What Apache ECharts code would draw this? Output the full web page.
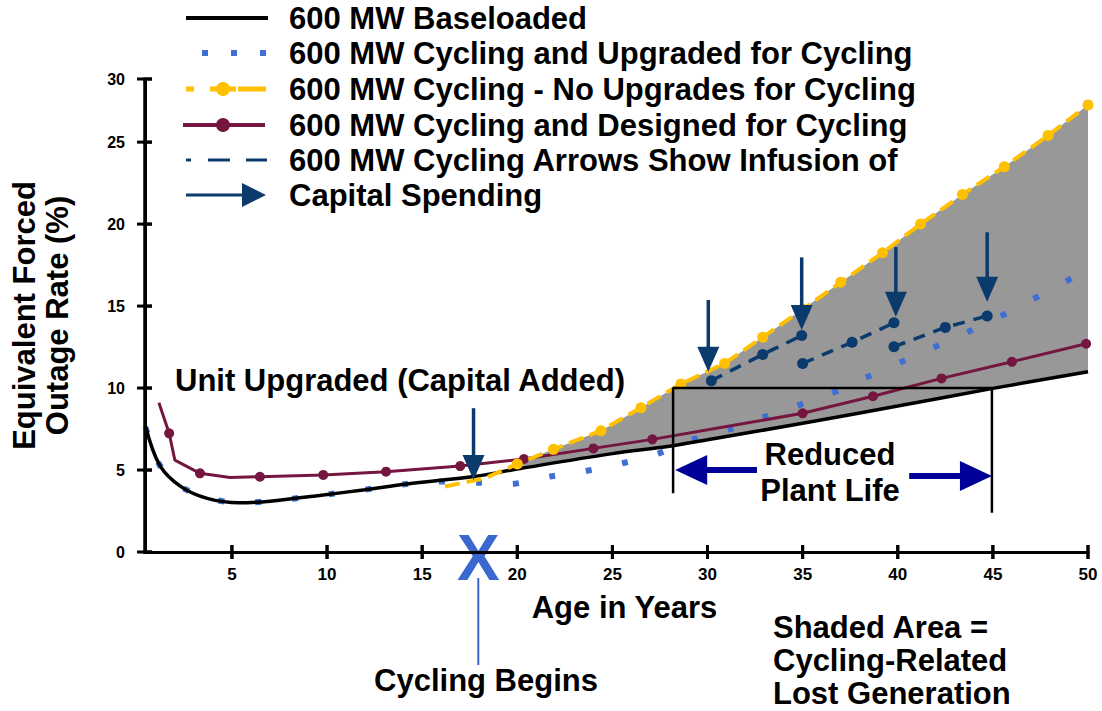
<!DOCTYPE html>
<html><head><meta charset="utf-8">
<script src="https://cdn.jsdelivr.net/npm/echarts@6/dist/echarts.min.js"></script>
<style>html,body{margin:0;padding:0;background:#fff}#c{width:1102px;height:711px}</style>
</head><body><div id="c"></div>
<script>
// ---------- data ----------
const xTickValues = [5, 10, 15, 20, 25, 30, 35, 40, 45, 50];
const xTickLabels = ['5', '10', '15', '20', '25', '30', '35', '40', '45', '50'];
const yTickValues = [0, 5, 10, 15, 20, 25, 28.85];
const yTickLabels = ['0', '5', '10', '15', '20', '25', '30'];
const xMin = 0.43, xMax = 50, yMin = 0, yMax = 28.85;

const seriesNames = [
  '600 MW Baseloaded',
  '600 MW Cycling and Upgraded for Cycling',
  '600 MW Cycling - No Upgrades for Cycling',
  '600 MW Cycling and Designed for Cycling',
  '600 MW Cycling Arrows Show Infusion of',
  'Capital Spending'
];

const baseloaded = [[0.45,7.7],[1.2,5.3],[2.3,4.0],[3.7,3.27],[5.4,3.0],[7,3.1],[9.6,3.45],[12,3.8],[14.2,4.15],[17.7,4.6],[20,5.06],[25,6.0],[28,6.45],[30,6.85],[35,7.85],[40,8.9],[45,9.98],[50,11.0]];
const upgraded = [[0.45,7.6],[1.2,5.3],[2.3,4.0],[3.7,3.27],[5.4,3.0],[7,3.1],[9.6,3.45],[12,3.8],[14.2,4.15],[15.8,4.3],[17.9,4.23],[19.7,4.15],[21.7,4.6],[23.6,4.94],[25.5,5.4],[27.4,6.0],[29.25,6.87],[31.15,7.48],[33,8.25],[34.9,9.0],[36.7,9.77],[38.5,10.73],[40.3,11.65],[42.05,12.56],[43.9,13.54],[45.7,14.55],[47.4,15.6],[49.15,16.7],[50,17.2]];
const noUpgrades = [[16.2,4.0],[18.3,4.5],[20,5.37],[21.9,6.26],[24.4,7.4],[26.5,8.8],[28.6,10.25],[30.9,11.5],[32.9,13.1],[35,14.8],[37,16.45],[39.2,18.25],[41.2,20.0],[43.4,21.8],[45.6,23.5],[47.9,25.4],[50,27.26]];
const noUpgradesUnmarked = [0, 1];
const designed = [[1.16,9.1],[1.7,7.24],[2.0,5.6],[3.32,4.8],[4.9,4.55],[6.47,4.59],[9.8,4.7],[13.1,4.9],[17.0,5.24],[20.35,5.67],[24.0,6.32],[27.1,6.87],[31,7.65],[35,8.46],[38.7,9.5],[42.3,10.59],[46,11.6],[49.9,12.7]];
const designedUnmarked = [0, 2, 4, 12];
const arrowSeg1 = [[30.2,10.45],[32.9,12.05],[34.95,13.2]];
const arrowSeg2 = [[35.0,11.5],[37.6,12.79],[39.8,13.98]];
const arrowSeg3 = [[39.8,12.52],[42.5,13.7],[44.7,14.4]];
// capital spending arrows: [age, top of shaft, arrow tip]
const capitalArrows = [[17.7,8.77,4.39],[30.04,15.37,11.0],[34.95,17.97,13.54],[39.9,18.6,14.35],[44.7,19.5,15.26]];
const shadeStart = [19.6, 5.0];
// reduced plant life bracket and arrows: [tail age, tip age, value]
const lifeBracket = [[28.19,3.58],[28.19,10.0],[44.95,10.0],[44.95,2.4]];
const lifeArrows = [[32.6,28.3,5.0],[40.6,44.95,4.63]];
const cyclingBeginsAge = 17.95;

// ---------- styles ----------
const FONT = "'Liberation Sans', Arial, sans-serif";
const BIG = 'bold 31px ' + FONT;
const C_BLACK = '#000000', C_BLUE = '#3d6fd6', C_YEL = '#ffc000', C_MAR = '#74163f', C_NAVY = '#0b3a6d', C_DB = '#000099', C_GREY = '#989898', C_X = '#3a68cf';

const shadePts = [shadeStart].concat(noUpgrades.filter(p => p[0] >= 20), baseloaded.filter(p => p[0] >= 20).reverse());

function marked(arr, unmarked) {
  return arr.map((p, i) => unmarked.indexOf(i) >= 0 ? { value: p, symbol: 'none' } : p);
}
function idxLabel(values, labels) {
  return v => { const i = values.findIndex(t => Math.abs(t - v) < 1e-6); return i >= 0 ? labels[i] : ''; };
}

const chart = echarts.init(document.getElementById('c'), null, { renderer: 'svg' });

// legend (drawn) -------------------------------------------------
const LX = 289, rowsY = [18, 53, 89, 125, 160, 195];
const legend = [];
legend.push({ type: 'line', shape: { x1: 186, y1: rowsY[0], x2: 268, y2: rowsY[0] }, style: { stroke: C_BLACK, lineWidth: 4 } });
legend.push({ type: 'line', shape: { x1: 202, y1: rowsY[1], x2: 268, y2: rowsY[1] }, style: { stroke: C_BLUE, lineWidth: 6, lineDash: [6, 23] } });
legend.push({ type: 'line', shape: { x1: 186, y1: rowsY[2], x2: 194, y2: rowsY[2] }, style: { stroke: C_YEL, lineWidth: 5 } });
legend.push({ type: 'line', shape: { x1: 210, y1: rowsY[2], x2: 236, y2: rowsY[2] }, style: { stroke: C_YEL, lineWidth: 5 } });
legend.push({ type: 'line', shape: { x1: 238, y1: rowsY[2], x2: 266, y2: rowsY[2] }, style: { stroke: C_YEL, lineWidth: 5 } });
legend.push({ type: 'circle', shape: { cx: 223, cy: rowsY[2], r: 7 }, style: { fill: C_YEL } });
legend.push({ type: 'line', shape: { x1: 183, y1: rowsY[3], x2: 265, y2: rowsY[3] }, style: { stroke: C_MAR, lineWidth: 4 } });
legend.push({ type: 'circle', shape: { cx: 223, cy: rowsY[3], r: 7 }, style: { fill: C_MAR } });
legend.push({ type: 'line', shape: { x1: 186, y1: rowsY[4], x2: 191, y2: rowsY[4] }, style: { stroke: C_NAVY, lineWidth: 3 } });
legend.push({ type: 'line', shape: { x1: 208, y1: rowsY[4], x2: 230, y2: rowsY[4] }, style: { stroke: C_NAVY, lineWidth: 3 } });
legend.push({ type: 'line', shape: { x1: 246, y1: rowsY[4], x2: 267, y2: rowsY[4] }, style: { stroke: C_NAVY, lineWidth: 3 } });
legend.push({ type: 'line', shape: { x1: 186, y1: rowsY[5], x2: 244, y2: rowsY[5] }, style: { stroke: C_NAVY, lineWidth: 3 } });
legend.push({ type: 'polygon', shape: { points: [[242, rowsY[5] - 12], [242, rowsY[5] + 12], [266, rowsY[5]]] }, style: { fill: C_NAVY } });
seriesNames.forEach((n, i) => legend.push({ type: 'text', x: LX, y: rowsY[i], style: { text: n, font: BIG, fill: '#000', align: 'left', verticalAlign: 'middle' } }));

const texts = [
  { type: 'text', x: 175, y: 380, style: { text: 'Unit Upgraded (Capital Added)', font: BIG, fill: '#000', align: 'left', verticalAlign: 'middle' } },
  { type: 'text', x: 830, y: 472, style: { text: 'Reduced\nPlant Life', font: BIG, lineHeight: 36, fill: '#000', align: 'center', verticalAlign: 'middle' } },
  { type: 'text', x: 773, y: 660, style: { text: 'Shaded Area =\nCycling-Related\nLost Generation', font: BIG, lineHeight: 33, fill: '#000', align: 'left', verticalAlign: 'middle' } },
  { type: 'text', x: 486, y: 680, style: { text: 'Cycling Begins', font: BIG, fill: '#000', align: 'center', verticalAlign: 'middle' } }
];

const option = {
  animation: false,
  backgroundColor: '#ffffff',
  grid: { left: 145, right: 14, top: 79, bottom: 159, containLabel: false, outerBoundsMode: 'none' },
  xAxis: {
    type: 'value', min: xMin, max: xMax,
    name: 'Age in Years', nameLocation: 'middle', nameGap: 40,
    nameTextStyle: { fontFamily: FONT, fontWeight: 'bold', fontSize: 31, color: '#000', padding: [0, 0, 0, 16] },
    axisLine: { show: true, onZero: false, lineStyle: { color: '#000', width: 3 } },
    splitLine: { show: false },
    axisTick: { show: false },
    axisLabel: { show: true, customValues: xTickValues, formatter: idxLabel(xTickValues, xTickLabels), margin: 14, fontFamily: FONT, fontWeight: 'bold', fontSize: 17, color: '#000' }
  },
  yAxis: {
    type: 'value', min: yMin, max: yMax,
    name: 'Equivalent Forced\nOutage Rate (%)', nameLocation: 'middle', nameRotate: 90, nameGap: 71,
    nameTextStyle: { fontFamily: FONT, fontWeight: 'bold', fontSize: 31, lineHeight: 33, color: '#000', align: 'center' },
    axisLine: { show: true, onZero: false, lineStyle: { color: '#010101', width: 3 } },
    splitLine: { show: false },
    axisTick: { show: false },
    axisLabel: { show: true, customValues: yTickValues, formatter: idxLabel(yTickValues, yTickLabels), margin: 20, fontFamily: FONT, fontWeight: 'bold', fontSize: 16, color: '#000' }
  },
  series: [
    {
      name: 'shade', type: 'custom', z: 1, clip: false, silent: true,
      data: shadePts, encode: { x: 0, y: 1 },
      renderItem: (params, api) => {
        if (params.dataIndex !== 0) return null;
        return { type: 'polygon', shape: { points: shadePts.map(p => api.coord(p)) }, style: { fill: C_GREY } };
      }
    },
    { name: seriesNames[1], type: 'line', z: 2, data: upgraded, smooth: 0.2, symbol: 'none',
      lineStyle: { color: C_BLUE, width: 6, type: [6, 31], cap: 'butt' } },
    { name: seriesNames[0], type: 'line', z: 3, data: baseloaded, smooth: 0.35, symbol: 'none',
      lineStyle: { color: C_BLACK, width: 3.5 } },
    { name: seriesNames[3], type: 'line', z: 4, data: marked(designed, designedUnmarked), symbol: 'circle', symbolSize: 10,
      itemStyle: { color: C_MAR }, lineStyle: { color: C_MAR, width: 3 } },
    { name: seriesNames[2], type: 'line', z: 5, data: marked(noUpgrades, noUpgradesUnmarked), symbol: 'circle', symbolSize: 11,
      itemStyle: { color: C_YEL }, lineStyle: { color: C_YEL, width: 4, type: [15, 7] } },
    ...[arrowSeg1, arrowSeg2, arrowSeg3].map(seg => ({
      name: seriesNames[4], type: 'line', z: 6, data: seg, symbol: 'circle', symbolSize: 11,
      itemStyle: { color: C_NAVY }, lineStyle: { color: C_NAVY, width: 3.5, type: [12, 9] }
    })),
    { name: 'bracket', type: 'line', z: 6, data: lifeBracket, symbol: 'none', lineStyle: { color: '#000', width: 2.5 } },
    {
      name: 'Reduced Plant Life', type: 'custom', z: 7, clip: false,
      data: lifeArrows, encode: { x: [0, 1], y: 2 },
      renderItem: (params, api) => {
        const tail = api.coord([api.value(0), api.value(2)]);
        const tip = api.coord([api.value(1), api.value(2)]);
        const dir = tip[0] > tail[0] ? 1 : -1, hl = 32, hh = 15;
        return { type: 'group', children: [
          { type: 'line', shape: { x1: tail[0], y1: tail[1], x2: tip[0] - dir * (hl - 2), y2: tip[1] }, style: { stroke: C_DB, lineWidth: 6 } },
          { type: 'polygon', shape: { points: [[tip[0] - dir * hl, tip[1] - hh], [tip[0] - dir * hl, tip[1] + hh], [tip[0], tip[1]]] }, style: { fill: C_DB } }
        ] };
      }
    },
    {
      name: seriesNames[5], type: 'custom', z: 8, clip: false,
      data: capitalArrows, encode: { x: 0, y: [1, 2] },
      renderItem: (params, api) => {
        const top = api.coord([api.value(0), api.value(1)]);
        const tip = api.coord([api.value(0), api.value(2)]);
        const hh = 25, hw = 11;
        return { type: 'group', children: [
          { type: 'line', shape: { x1: top[0], y1: top[1], x2: tip[0], y2: tip[1] - hh + 2 }, style: { stroke: C_NAVY, lineWidth: 3.5 } },
          { type: 'polygon', shape: { points: [[tip[0] - hw, tip[1] - hh], [tip[0] + hw, tip[1] - hh], [tip[0], tip[1]]] }, style: { fill: C_NAVY } }
        ] };
      }
    }
  ],
  graphic: legend.concat(texts)
};
chart.setOption(option);

// scale helpers from the chart's own axes
const px = v => chart.convertToPixel({ xAxisIndex: 0 }, v);
const py = v => chart.convertToPixel({ yAxisIndex: 0 }, v);
const x0 = px(xMin), y0 = py(yMin);
const xPerPx = (xMax - xMin) / (px(xMax) - x0);
const yPerPx = (yMax - yMin) / (y0 - py(yMax));

// axis frame: y axis line and crossing ticks as small line series on the chart scales
const frameStyle = { symbol: 'none', clip: false, z: 6, lineStyle: { color: '#010101', width: 3 } };
option.series.push(Object.assign({ name: 'yAxisLine', type: 'line', data: [[xMin, yMin - 1.5 * yPerPx], [xMin, yMax]] }, frameStyle));
xTickValues.forEach(v => option.series.push(Object.assign({ name: 'xTick' + v, type: 'line', data: [[v, yMin - 7 * yPerPx], [v, yMin + 7 * yPerPx]] }, frameStyle)));
yTickValues.forEach(v => option.series.push(Object.assign({ name: 'yTick' + v, type: 'line', data: [[xMin - 8 * xPerPx, v], [xMin + 7 * xPerPx, v]] }, frameStyle)));

// same frame as plain graphic lines (backup), plus the "Cycling Begins" marker
const frameLines = [{ type: 'line', shape: { x1: x0, y1: py(yMax), x2: x0, y2: y0 + 1.5 }, style: { stroke: '#010101', lineWidth: 3 } }];
xTickValues.forEach(v => frameLines.push({ type: 'line', shape: { x1: px(v), y1: y0 - 7, x2: px(v), y2: y0 + 7 }, style: { stroke: '#010101', lineWidth: 3 } }));
yTickValues.forEach(v => frameLines.push({ type: 'line', shape: { x1: x0 - 8, y1: py(v), x2: x0 + 7, y2: py(v) }, style: { stroke: '#010101', lineWidth: 3 } }));
const xp = px(cyclingBeginsAge);
option.graphic = legend.concat(texts, [
  { type: 'line', shape: { x1: xp, y1: y0 + 26, x2: xp, y2: 665 }, style: { stroke: C_X, lineWidth: 2 } },
  { type: 'text', x: xp, y: y0 + 6, style: { text: 'X', font: 'bold 64px ' + FONT, fill: C_X, align: 'center', verticalAlign: 'middle' } }
], frameLines);
chart.setOption(option, true);
</script>
</body></html>
